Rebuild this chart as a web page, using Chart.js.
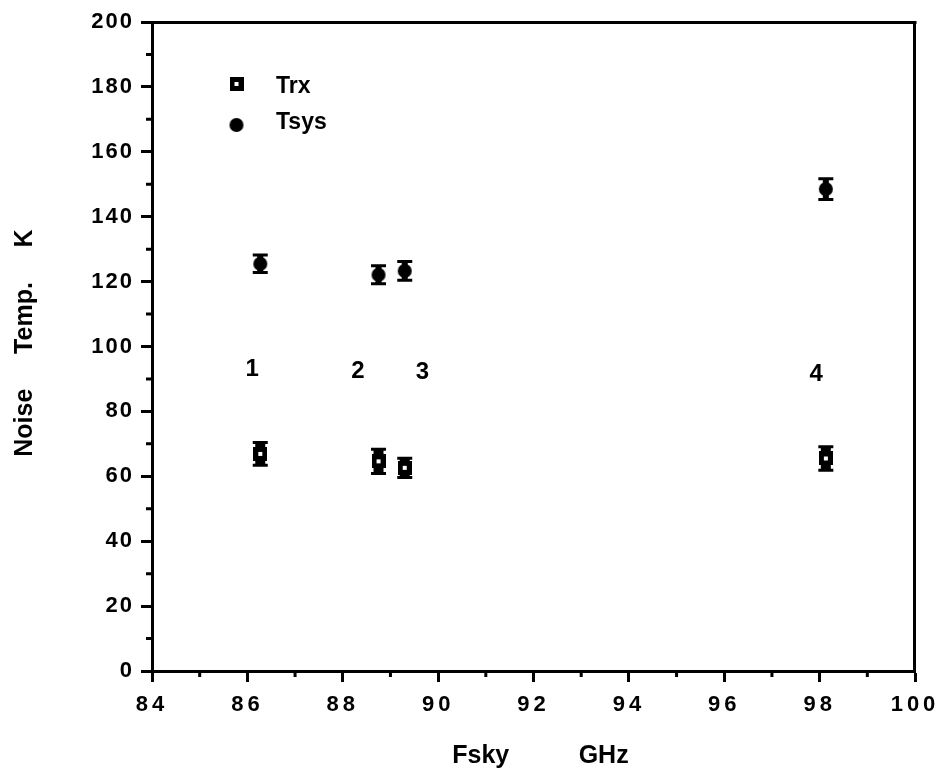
<!DOCTYPE html>
<html>
<head>
<meta charset="utf-8">
<script src="https://cdn.jsdelivr.net/npm/chart.js@4.4.1/dist/chart.umd.min.js"></script>
<style>
html,body{margin:0;padding:0;background:#fff;}
canvas{display:block;}
</style>
</head>
<body>
<canvas id="c" width="951" height="776"></canvas>
<script>
// ---- data ----
const freqs = [86.27, 88.75, 89.3, 98.13];          // Fsky, GHz
const trx = [66.9, 64.6, 62.6, 65.5];               // Trx, K
const trxErr = [3.5, 3.7, 3.0, 3.6];
const tsys = [125.5, 122.1, 123.3, 148.5];          // Tsys, K
const tsysErr = [2.7, 2.8, 2.9, 3.2];
const bandLabels = ['1', '2', '3', '4'];
const bandLabelX = [86.1, 88.32, 89.67, 97.93];
const bandLabelY = [93.1, 92.2, 92.0, 91.5];
const seriesNames = ['Trx', 'Tsys'];
const xTickValues = [84, 86, 88, 90, 92, 94, 96, 98, 100];
const xMinorTicks = [85, 87, 89, 91, 93, 95, 97, 99];
const yTickValues = [0, 20, 40, 60, 80, 100, 120, 140, 160, 180, 200];
const yMinorTicks = [10, 30, 50, 70, 90, 110, 130, 150, 170, 190];
const xTitle = '  Fsky          GHz';
const yTitle = ' Noise     Temp.     K';

// ---- marker images ----
function makeSquare() {
  const c = document.createElement('canvas'); c.width = 14; c.height = 14;
  const g = c.getContext('2d');
  g.fillStyle = '#000'; g.fillRect(0, 0, 14, 14);
  g.fillStyle = '#fff'; g.fillRect(5, 5, 4, 4);
  return c;
}
function makeCircle() {
  const c = document.createElement('canvas'); c.width = 16; c.height = 16;
  const g = c.getContext('2d');
  g.fillStyle = '#000'; g.beginPath(); g.arc(8, 8, 7, 0, Math.PI * 2); g.fill();
  return c;
}
const sqImg = makeSquare();
const ciImg = makeCircle();

const FONT = '"Liberation Sans", Arial, Helvetica, sans-serif';
const labelSpacing = { x: 4, y: 2 };

const tickSpacing = {
  id: 'tickSpacing',
  afterLayout(chart) {
    ['x', 'y'].forEach(id => {
      const s = chart.scales[id];
      if (!s || s._spaced) return;
      const orig = s.drawLabels;
      s.drawLabels = function (ca) {
        const c = this.ctx;
        const prev = c.letterSpacing;
        c.letterSpacing = labelSpacing[id] + 'px';
        orig.call(this, ca);
        c.letterSpacing = prev || '0px';
      };
      s._spaced = true;
    });
  }
};

const errorBars = {
  id: 'errorBars',
  beforeDatasetsDraw(chart) {
    const ctx = chart.ctx, ys = chart.scales.y;
    const errs = [trxErr, tsysErr];
    const vals = [trx, tsys];
    const stemWidth = [10, 6];
    ctx.save();
    ctx.strokeStyle = '#000';
    chart.data.datasets.forEach((ds, di) => {
      const meta = chart.getDatasetMeta(di);
      meta.data.forEach((pt, i) => {
        const x = pt.x;
        const yTop = ys.getPixelForValue(vals[di][i] + errs[di][i]);
        const yBot = ys.getPixelForValue(vals[di][i] - errs[di][i]);
        ctx.lineWidth = stemWidth[di];
        ctx.beginPath(); ctx.moveTo(x, yTop); ctx.lineTo(x, yBot); ctx.stroke();
        ctx.lineWidth = 3;
        ctx.beginPath();
        ctx.moveTo(x - 7.5, yTop); ctx.lineTo(x + 7.5, yTop);
        ctx.moveTo(x - 7.5, yBot); ctx.lineTo(x + 7.5, yBot);
        ctx.stroke();
      });
    });
    ctx.restore();
  }
};

const decorations = {
  id: 'decorations',
  afterDraw(chart) {
    const ctx = chart.ctx, a = chart.chartArea;
    const xs = chart.scales.x, ys = chart.scales.y;
    ctx.save();
    ctx.letterSpacing = '0px';
    ctx.strokeStyle = '#000';
    ctx.lineWidth = 3;
    // frame top & right
    ctx.beginPath();
    ctx.moveTo(a.left - 1.5, a.top + 0.5); ctx.lineTo(a.right + 1.5, a.top + 0.5);
    ctx.moveTo(a.right - 0.5, a.top); ctx.lineTo(a.right - 0.5, a.bottom + 1.5);
    ctx.stroke();
    // minor ticks
    ctx.beginPath();
    xMinorTicks.forEach(v => {
      const px = xs.getPixelForValue(v);
      ctx.moveTo(px, a.bottom); ctx.lineTo(px, a.bottom + 6);
    });
    yMinorTicks.forEach(v => {
      const py = ys.getPixelForValue(v);
      ctx.moveTo(a.left, py); ctx.lineTo(a.left - 6, py);
    });
    ctx.stroke();
    // band labels
    ctx.fillStyle = '#000';
    ctx.font = 'bold 24px ' + FONT;
    ctx.textAlign = 'center';
    ctx.textBaseline = 'middle';
    bandLabels.forEach((t, i) => {
      ctx.fillText(t, xs.getPixelForValue(bandLabelX[i]), ys.getPixelForValue(bandLabelY[i]));
    });
    // legend
    const lx = a.left + 84.5;
    ctx.drawImage(sqImg, lx - 7, a.top + 62 - 7);
    ctx.drawImage(ciImg, lx - 8, a.top + 103 - 8);
    ctx.font = 'bold 23px ' + FONT;
    ctx.textAlign = 'left';
    ctx.fillText(seriesNames[0], a.left + 124, a.top + 65);
    ctx.fillText(seriesNames[1], a.left + 124, a.top + 101);
    ctx.restore();
  }
};

new Chart(document.getElementById('c'), {
  type: 'scatter',
  data: {
    datasets: [
      { label: seriesNames[0], data: freqs.map((f, i) => ({ x: f, y: trx[i] })),
        pointStyle: sqImg, pointRadius: 7, showLine: false },
      { label: seriesNames[1], data: freqs.map((f, i) => ({ x: f, y: tsys[i] })),
        pointStyle: ciImg, pointRadius: 8, showLine: false }
    ]
  },
  options: {
    responsive: false,
    animation: false,
    devicePixelRatio: 1,
    layout: { padding: { left: 0, top: 22, right: 36, bottom: 0 } },
    plugins: { legend: { display: false }, tooltip: { enabled: false } },
    scales: {
      x: {
        type: 'linear', min: 84, max: 100,
        afterBuildTicks: s => { s.ticks = xTickValues.map(v => ({ value: v })); },
        afterFit: s => { s.height = 105; },
        border: { display: true, width: 3, color: '#000' },
        grid: { drawOnChartArea: false, drawTicks: true, tickLength: 11, tickWidth: 3, tickColor: '#000' },
        ticks: {
          color: '#000', padding: 10, maxRotation: 0, autoSkip: false,
          font: { family: FONT, size: 22, weight: 'bold' }
        },
        title: {
          display: true, text: xTitle, color: '#000',
          font: { family: FONT, size: 25, weight: 'bold' },
          padding: { top: 0, bottom: 5 }
        }
      },
      y: {
        type: 'linear', min: 0, max: 200,
        afterBuildTicks: s => { s.ticks = yTickValues.map(v => ({ value: v })); },
        afterFit: s => { s.width = 152; },
        border: { display: true, width: 3, color: '#000' },
        grid: { drawOnChartArea: false, drawTicks: true, tickLength: 11, tickWidth: 3, tickColor: '#000' },
        ticks: {
          color: '#000', padding: 7, autoSkip: false,
          font: { family: FONT, size: 22, weight: 'bold' }
        },
        title: {
          display: true, text: yTitle, color: '#000',
          font: { family: FONT, size: 25, weight: 'bold' },
          padding: { top: 10, bottom: 0 }
        }
      }
    }
  },
  plugins: [tickSpacing, errorBars, decorations]
});
</script>
</body>
</html>
